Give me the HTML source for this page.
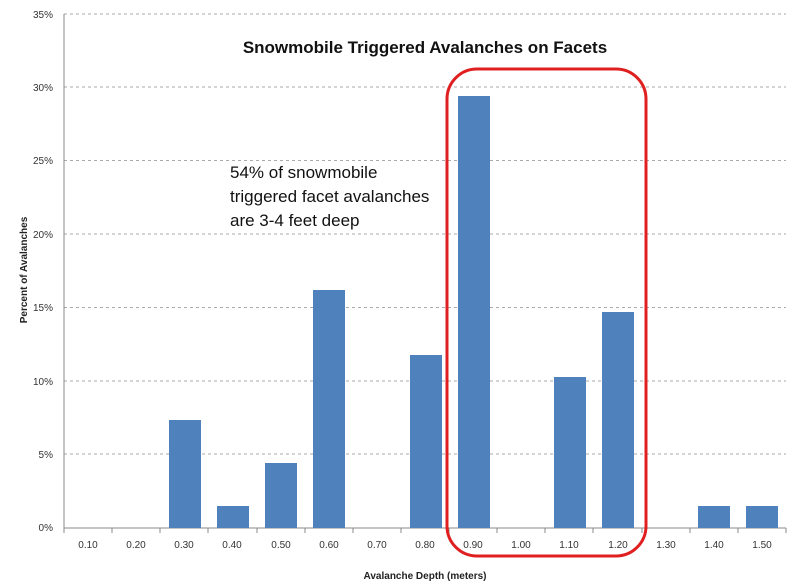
<!DOCTYPE html>
<html><head><style>body{margin:0;background:#fff}</style></head><body>
<svg width="800" height="583" xmlns="http://www.w3.org/2000/svg" font-family="Liberation Sans, sans-serif">
<rect width="800" height="583" fill="#fff"/>
<g stroke="#aaa" stroke-dasharray="3,3" stroke-width="1">
<line x1="64" x2="786" y1="14" y2="14"/><line x1="64" x2="786" y1="87" y2="87"/>
<line x1="64" x2="786" y1="160.5" y2="160.5"/><line x1="64" x2="786" y1="234" y2="234"/>
<line x1="64" x2="786" y1="307.5" y2="307.5"/><line x1="64" x2="786" y1="381" y2="381"/>
<line x1="64" x2="786" y1="454" y2="454"/>
</g>
<line x1="64" x2="64" y1="14" y2="528" stroke="#888"/>
<line x1="64" x2="786" y1="528" y2="528" stroke="#888"/>
<g font-size="10" fill="#333" text-anchor="end">
<text x="53" y="18">35%</text><text x="53" y="91">30%</text><text x="53" y="164">25%</text>
<text x="53" y="238">20%</text><text x="53" y="311">15%</text><text x="53" y="385">10%</text>
<text x="53" y="458">5%</text><text x="53" y="531">0%</text>
</g>
<g fill="#4f81bd">
<rect x="169" y="420" width="32" height="108"/>
<rect x="217" y="506" width="32" height="22"/>
<rect x="265" y="463" width="32" height="65"/>
<rect x="313" y="290" width="32" height="238"/>
<rect x="410" y="355" width="32" height="173"/>
<rect x="458" y="96" width="32" height="432"/>
<rect x="554" y="377" width="32" height="151"/>
<rect x="602" y="312" width="32" height="216"/>
<rect x="698" y="506" width="32" height="22"/>
<rect x="746" y="506" width="32" height="22"/>
</g>
<g stroke="#888"><line x1="64" x2="64" y1="528" y2="533"/><line x1="112" x2="112" y1="528" y2="533"/><line x1="160" x2="160" y1="528" y2="533"/><line x1="208" x2="208" y1="528" y2="533"/><line x1="257" x2="257" y1="528" y2="533"/><line x1="305" x2="305" y1="528" y2="533"/><line x1="353" x2="353" y1="528" y2="533"/><line x1="401" x2="401" y1="528" y2="533"/><line x1="449" x2="449" y1="528" y2="533"/><line x1="497" x2="497" y1="528" y2="533"/><line x1="545" x2="545" y1="528" y2="533"/><line x1="593" x2="593" y1="528" y2="533"/><line x1="642" x2="642" y1="528" y2="533"/><line x1="690" x2="690" y1="528" y2="533"/><line x1="738" x2="738" y1="528" y2="533"/><line x1="786" x2="786" y1="528" y2="533"/></g>
<g font-size="10" fill="#333" text-anchor="middle">
<text x="88" y="548">0.10</text><text x="136" y="548">0.20</text><text x="184" y="548">0.30</text>
<text x="232" y="548">0.40</text><text x="281" y="548">0.50</text><text x="329" y="548">0.60</text>
<text x="377" y="548">0.70</text><text x="425" y="548">0.80</text><text x="473" y="548">0.90</text>
<text x="521" y="548">1.00</text><text x="569" y="548">1.10</text><text x="618" y="548">1.20</text>
<text x="666" y="548">1.30</text><text x="714" y="548">1.40</text><text x="762" y="548">1.50</text>
</g>
<text x="425" y="579" font-size="10" font-weight="bold" text-anchor="middle" fill="#222">Avalanche Depth (meters)</text>
<text transform="translate(27,270) rotate(-90)" font-size="10" font-weight="bold" text-anchor="middle" fill="#222">Percent of Avalanches</text>
<text x="425" y="53" font-size="17" font-weight="bold" text-anchor="middle" fill="#111">Snowmobile Triggered Avalanches on Facets</text>
<g font-size="17" fill="#111"><text x="230" y="178">54% of snowmobile</text><text x="230" y="202">triggered facet avalanches</text><text x="230" y="226">are 3-4 feet deep</text></g>
<rect x="447" y="69" width="199" height="487" rx="30" ry="30" fill="none" stroke="#e02020" stroke-width="3"/>
</svg>
</body></html>
